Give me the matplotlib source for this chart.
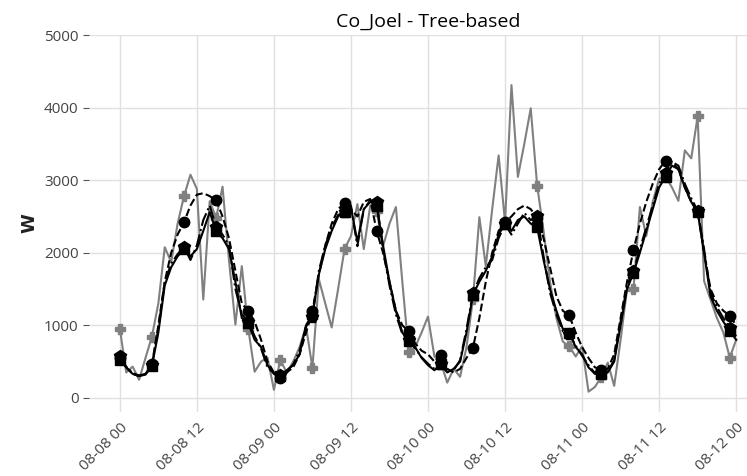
import numpy as np
import pandas as pd
import matplotlib
matplotlib.use("Agg")
import matplotlib.pyplot as plt
import matplotlib.dates as mdates

# hourly timestamps, 08-08 00 .. 08-12 00
times = pd.date_range("2023-08-08 00:00", periods=97, freq="h")

actual = [955, 350, 430, 250, 550, 845, 1300, 2075, 1870, 2400,
          2780, 3075, 2880, 1355, 2710, 2480, 2910, 1900, 1010, 1815,
          955, 360, 500, 555, 110, 525, 345, 500, 700, 985,
          415, 1635, 1300, 970, 1500, 2050, 2230, 2670, 2050, 2645,
          2575, 2090, 2400, 2630, 1600, 625, 700, 900, 1120, 570,
          485, 210, 400, 290, 700, 1360, 2490, 1815, 2600, 3340,
          2420, 4310, 3045, 3500, 3990, 2925, 2300, 1600, 1100, 775,
          710, 570, 710, 85, 150, 290, 485, 165, 800, 1500,
          1495, 2630, 2230, 2700, 3020, 3045, 2900, 2715, 3410, 3300,
          3880, 1610, 1355, 1100, 900, 555, 800]

pred_dashed = [550, 420, 330, 300, 330, 460, 1000, 1600, 2000, 2250,
               2420, 2650, 2800, 2820, 2780, 2720, 2500, 2200, 1750, 1300,
               1200, 1050, 800, 500, 350, 280, 350, 420, 600, 900,
               1190, 1700, 2100, 2400, 2600, 2690, 2600, 2500, 2700, 2740,
               2300, 2000, 1600, 1200, 1000, 915, 750, 650, 600, 500,
               595, 400, 350, 400, 550, 690, 1100, 1600, 2000, 2300,
               2420, 2500, 2600, 2650, 2600, 2480, 2200, 1800, 1400, 1200,
               1135, 900, 700, 550, 420, 390, 400, 600, 1100, 1600,
               2035, 2400, 2700, 2950, 3150, 3270, 3250, 3150, 2900, 2700,
               2575, 2000, 1500, 1300, 1200, 1130, 1000]

pred_solid = [520, 420, 330, 300, 320, 440, 900, 1550, 1800, 1950,
              2050, 1950, 2050, 2300, 2560, 2300, 2200, 2050, 1600, 1100,
              1030, 800, 700, 450, 330, 300, 380, 450, 600, 1000,
              1150, 1700, 2050, 2300, 2500, 2560, 2620, 2150, 2600, 2700,
              2650, 2100, 1600, 1200, 900, 780, 700, 550, 450, 380,
              470, 350, 400, 500, 900, 1420, 1600, 1750, 1950, 2250,
              2400, 2300, 2450, 2500, 2400, 2350, 1900, 1500, 1200, 950,
              900, 700, 600, 420, 330, 330, 350, 500, 1000, 1500,
              1720, 2000, 2300, 2600, 2900, 3050, 3200, 3150, 2900, 2700,
              2560, 2000, 1400, 1200, 1050, 920, 800]

pred_dashdot = [570, 430, 340, 310, 330, 450, 950, 1600, 1850, 1980,
                2080, 1900, 2100, 2450, 2650, 2360, 2250, 2100, 1500, 1150,
                1050, 850, 680, 420, 340, 310, 370, 460, 650, 980,
                1120, 1750, 2100, 2350, 2520, 2560, 2650, 2090, 2600, 2720,
                2700, 2050, 1550, 1150, 880, 800, 680, 560, 470, 400,
                460, 360, 380, 520, 950, 1440, 1650, 1800, 1900, 2200,
                2390, 2250, 2400, 2550, 2450, 2500, 1950, 1450, 1150, 920,
                880, 720, 580, 450, 340, 340, 360, 520, 1050, 1550,
                1750, 2050, 2350, 2650, 2950, 3100, 3250, 3200, 2950, 2750,
                2580, 2050, 1450, 1250, 1100, 960, 850]

fig = plt.figure(figsize=(7.47, 4.76), dpi=100)
ax = fig.add_axes([89 / 747, 64 / 476, 678 / 747, 377 / 476])

plt.rcParams["font.family"] = ["Open Sans", "DejaVu Sans"]

ax.plot(times, actual, color="#808080", lw=1.5, marker="P", ms=7, markevery=5)
ax.plot(times, pred_dashed, color="black", lw=1.5, ls="--", marker="o", ms=7.5, markevery=5)
ax.plot(times, pred_solid, color="black", lw=1.5, ls="-", marker="s", ms=7.5, markevery=5)
ax.plot(times, pred_dashdot, color="black", lw=1.5, ls="-.", marker="p", ms=8.5, markevery=5)

ax.set_ylim(-195, 5000)
ax.set_yticks([0, 1000, 2000, 3000, 4000, 5000])
ax.xaxis.set_major_locator(mdates.HourLocator(byhour=[0, 12]))
ax.xaxis.set_major_formatter(mdates.DateFormatter("%m-%d %H"))

for s in ax.spines.values():
    s.set_visible(False)
ax.grid(True, color="#e0e0e0", lw=1)
ax.set_axisbelow(True)
ax.tick_params(axis="y", length=4, color="#555555", labelcolor="#444444", labelsize=11)
ax.tick_params(axis="x", length=0, labelcolor="#444444", labelsize=11, pad=6)
for lab in ax.get_xticklabels():
    lab.set_rotation(45)
    lab.set_ha("right")
    lab.set_rotation_mode("anchor")
    lab.set_family(["Open Sans", "DejaVu Sans"])
for lab in ax.get_yticklabels():
    lab.set_family(["Open Sans", "DejaVu Sans"])

ax.set_ylabel("W", fontsize=13, fontweight="bold", color="#222222", family="DejaVu Sans")
ax.set_title("Co_Joel - Tree-based", fontsize=14, family=["Open Sans", "DejaVu Sans"], pad=6)

fig.savefig("out.png", dpi=100)
